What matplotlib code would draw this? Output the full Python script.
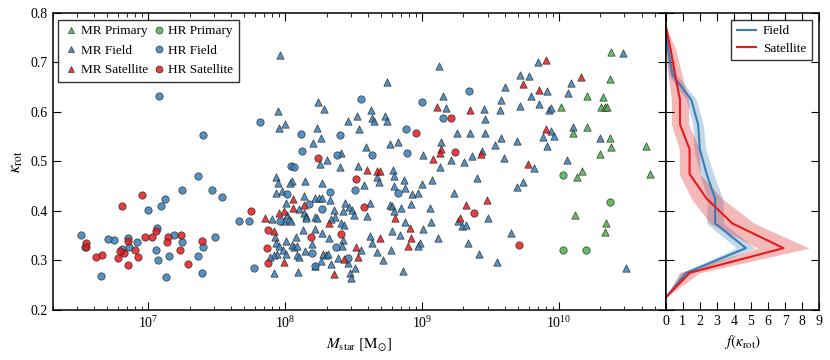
import numpy as np
import matplotlib
matplotlib.use("Agg")
import matplotlib.pyplot as plt
from matplotlib.lines import Line2D

plt.rcParams['font.family'] = ['Liberation Serif', 'DejaVu Serif']
plt.rcParams['mathtext.fontset'] = 'stix'

# ---------------- data (log10 M_star, kappa_rot) ----------------
mr_primary_logm = [10.377, 10.370, 10.200, 10.319, 10.015, 10.306, 10.338, 10.353, 10.200, 10.102,
                   10.370, 10.382, 10.302, 10.165, 10.131, 10.117, 10.340, 10.338, 10.637, 10.666]
mr_primary_k = [0.722, 0.667, 0.632, 0.630, 0.611, 0.610, 0.611, 0.610, 0.569, 0.557,
                0.548, 0.529, 0.515, 0.481, 0.468, 0.391, 0.375, 0.358, 0.531, 0.475]

hr_primary_logm = [10.029, 10.370, 10.025, 10.197]
hr_primary_k = [0.473, 0.418, 0.321, 0.322]

mr_field_logm = [7.962, 8.746, 9.123, 8.239, 8.285, 7.945, 7.996, 7.952, 8.625, 8.523,
                 8.460, 8.630, 8.649, 8.730, 8.744, 8.540, 8.234, 8.258, 8.203, 8.766,
                 8.822, 8.589, 8.407, 9.007, 8.305, 8.251, 8.397, 8.528, 8.783, 8.666,
                 8.795, 7.928, 7.945, 8.052, 8.037, 8.141, 8.686, 8.870, 8.267, 9.072,
                 8.997, 8.574, 8.795, 7.977, 7.928, 8.875, 8.926, 8.972, 8.134, 8.219,
                 8.243, 8.268, 8.329, 8.003, 8.438, 8.462, 8.487, 8.620, 8.764, 8.778,
                 8.846, 8.917, 8.797, 9.060, 8.098, 8.139, 8.152, 8.353, 8.418, 8.499,
                 8.360, 8.219, 8.232, 8.154, 8.336, 8.407, 8.596, 7.904, 8.013, 8.025,
                 7.988, 8.039, 8.875, 9.065, 8.431, 9.004, 8.132, 8.217, 8.266, 8.076,
                 7.922, 7.930, 7.955, 8.003, 8.052, 8.066, 8.083, 8.198, 8.319, 8.423,
                 8.416, 8.778, 8.834, 8.615, 8.987, 8.972, 8.633, 8.773, 7.984, 8.003,
                 7.942, 7.918, 7.889, 8.144, 8.083, 8.101, 8.278, 8.294, 8.314, 8.387,
                 8.553, 8.666, 8.715, 8.258, 8.331, 8.460, 8.219, 8.511, 7.918, 8.095,
                 8.472, 8.477, 8.863,
                 10.466, 9.843, 9.714, 9.781, 10.085, 9.606, 9.910, 10.063, 9.155, 9.796,
                 9.573, 9.172, 9.453, 9.568, 9.714, 9.850, 9.927, 9.940, 9.456, 9.254,
                 9.349, 9.458, 9.940, 10.098, 9.961, 9.883, 9.573, 9.690, 10.297, 9.531,
                 9.908, 9.138, 9.366, 9.439, 9.595, 10.054, 9.130, 9.211, 9.303, 9.816,
                 9.402, 9.690, 9.738, 9.233, 9.480, 9.262, 9.289, 9.320, 9.650, 9.114,
                 9.332, 9.413, 9.546, 10.488]
mr_field_k = [0.715, 0.661, 0.693, 0.620, 0.606, 0.603, 0.576, 0.567, 0.604, 0.592,
              0.582, 0.587, 0.582, 0.592, 0.582, 0.565, 0.568, 0.548, 0.537, 0.535,
              0.540, 0.529, 0.518, 0.513, 0.503, 0.495, 0.488, 0.491, 0.483, 0.469,
              0.471, 0.468, 0.457, 0.461, 0.457, 0.461, 0.458, 0.463, 0.456, 0.463,
              0.455, 0.453, 0.451, 0.441, 0.436, 0.446, 0.435, 0.437, 0.430, 0.427,
              0.427, 0.427, 0.422, 0.417, 0.417, 0.409, 0.403, 0.416, 0.412, 0.410,
              0.407, 0.414, 0.399, 0.407, 0.405, 0.395, 0.390, 0.402, 0.399, 0.392,
              0.388, 0.388, 0.385, 0.385, 0.383, 0.376, 0.390, 0.383, 0.392, 0.383,
              0.380, 0.380, 0.377, 0.378, 0.372, 0.363, 0.361, 0.363, 0.356, 0.347,
              0.347, 0.336, 0.329, 0.339, 0.331, 0.327, 0.329, 0.334, 0.345, 0.341,
              0.329, 0.359, 0.352, 0.349, 0.336, 0.329, 0.336, 0.321, 0.321, 0.313,
              0.314, 0.311, 0.308, 0.319, 0.311, 0.307, 0.314, 0.311, 0.314, 0.305,
              0.321, 0.317, 0.301, 0.298, 0.292, 0.294, 0.289, 0.285, 0.275, 0.277,
              0.275, 0.265, 0.278,
              0.719, 0.702, 0.675, 0.673, 0.659, 0.650, 0.642, 0.638, 0.632, 0.632,
              0.624, 0.609, 0.607, 0.605, 0.613, 0.616, 0.604, 0.609, 0.586, 0.558,
              0.558, 0.557, 0.562, 0.570, 0.552, 0.549, 0.547, 0.542, 0.548, 0.533,
              0.531, 0.540, 0.511, 0.521, 0.508, 0.504, 0.489, 0.504, 0.498, 0.486,
              0.467, 0.449, 0.458, 0.436, 0.385, 0.379, 0.370, 0.372, 0.356, 0.345,
              0.336, 0.313, 0.296, 0.284]

mr_sat_logm = [9.109, 9.082, 8.596, 8.671, 8.688, 8.057, 8.134, 8.057, 7.993, 7.952,
               8.802, 8.316, 8.912, 7.848, 7.918, 8.693, 8.919, 8.895, 8.516, 8.528,
               8.429, 7.991, 8.353, 9.905, 9.738, 10.158, 9.852, 9.351, 9.905, 9.136,
               9.130, 9.427, 9.774, 9.318, 9.475, 9.276]
mr_sat_k = [0.610, 0.506, 0.483, 0.480, 0.481, 0.424, 0.412, 0.407, 0.401, 0.395,
            0.385, 0.375, 0.366, 0.385, 0.359, 0.346, 0.346, 0.329, 0.328, 0.308,
            0.304, 0.297, 0.272, 0.706, 0.657, 0.671, 0.644, 0.604, 0.565, 0.525,
            0.517, 0.515, 0.495, 0.412, 0.422, 0.385]

hr_field_logm = [7.077, 7.401, 7.362, 7.245, 7.464, 7.539, 7.124, 7.090, 6.997, 7.663,
                 7.733, 7.063, 7.187, 7.485, 7.243, 7.401, 6.849, 6.915, 6.747, 6.703,
                 6.859, 6.805, 6.509, 6.536, 7.053, 7.362, 7.153, 7.073, 7.773, 7.391,
                 7.126, 6.652, 7.813, 8.553, 9.001, 8.115, 8.399, 8.880, 8.122, 8.380,
                 8.630, 8.892, 8.042, 8.061, 8.324, 8.511, 8.824, 8.013, 8.171, 8.268,
                 7.959, 8.367, 8.192, 8.217, 8.460, 9.340, 9.155]
hr_field_k = [0.633, 0.554, 0.471, 0.443, 0.443, 0.428, 0.424, 0.410, 0.403, 0.380,
              0.380, 0.366, 0.351, 0.347, 0.337, 0.327, 0.346, 0.337, 0.341, 0.343,
              0.327, 0.324, 0.351, 0.327, 0.321, 0.310, 0.309, 0.302, 0.285, 0.275,
              0.267, 0.269, 0.580, 0.626, 0.621, 0.556, 0.554, 0.566, 0.521, 0.513,
              0.513, 0.517, 0.490, 0.488, 0.439, 0.442, 0.436, 0.434, 0.414, 0.405,
              0.380, 0.327, 0.316, 0.288, 0.305, 0.643, 0.587]

hr_sat_logm = [6.956, 6.805, 7.751, 7.055, 7.238, 6.973, 7.024, 7.146, 7.133, 7.391,
               6.849, 6.543, 6.545, 6.900, 6.822, 6.789, 6.778, 6.920, 7.233, 6.618,
               6.662, 6.851, 7.292, 8.241, 8.953, 8.513, 8.571, 7.873, 8.404, 8.187,
               7.869, 7.871, 9.208, 9.242, 9.380, 9.708]
hr_sat_k = [0.432, 0.410, 0.399, 0.360, 0.352, 0.348, 0.348, 0.348, 0.338, 0.340,
            0.340, 0.336, 0.328, 0.321, 0.315, 0.319, 0.305, 0.307, 0.321, 0.307,
            0.311, 0.290, 0.292, 0.508, 0.558, 0.464, 0.409, 0.361, 0.354, 0.348,
            0.326, 0.294, 0.587, 0.519, 0.395, 0.331]

# distribution panel
kappa_bins = [0.225, 0.275, 0.325, 0.375, 0.425, 0.475, 0.525, 0.575, 0.625, 0.675, 0.725, 0.775]
f_field = [0.0, 1.2, 4.7, 2.9, 2.9, 2.4, 2.0, 1.9, 1.5, 0.4, 0.15, 0.0]
f_field_err = [0.0, 0.3, 0.55, 0.5, 0.45, 0.4, 0.35, 0.3, 0.3, 0.25, 0.15, 0.0]
f_sat = [0.0, 1.4, 6.9, 3.9, 2.4, 1.4, 1.4, 0.84, 0.84, 0.55, 0.3, 0.0]
f_sat_err = [0.0, 0.6, 1.5, 1.3, 0.9, 0.6, 0.6, 0.5, 0.5, 0.4, 0.3, 0.0]

# ---------------- styling ----------------
c_red = '#e41a1c'
c_blue = '#377eb8'
c_green = '#4daf4a'

fig = plt.figure(figsize=(8.3, 3.6), dpi=100)
ax = fig.add_axes([0.0636, 0.1389, 0.7384, 0.825])
ax2 = fig.add_axes([0.802, 0.1389, 0.1851, 0.825])

kw = dict(s=28, edgecolors='#222222', linewidths=0.5, alpha=0.85, zorder=3)
ax.scatter(10 ** np.array(mr_field_logm), mr_field_k, marker='^', c=c_blue, label='MR Field', **kw)
ax.scatter(10 ** np.array(hr_field_logm), hr_field_k, marker='o', c=c_blue, label='HR Field', **kw)
ax.scatter(10 ** np.array(mr_sat_logm), mr_sat_k, marker='^', c=c_red, label='MR Satellite', **kw)
ax.scatter(10 ** np.array(hr_sat_logm), hr_sat_k, marker='o', c=c_red, label='HR Satellite', **kw)
ax.scatter(10 ** np.array(mr_primary_logm), mr_primary_k, marker='^', c=c_green, label='MR Primary', **kw)
ax.scatter(10 ** np.array(hr_primary_logm), hr_primary_k, marker='o', c=c_green, label='HR Primary', **kw)

ax.set_xscale('log')
ax.set_xlim(2e6, 6e10)
ax.set_ylim(0.2, 0.8)
ax.set_yticks([0.2, 0.3, 0.4, 0.5, 0.6, 0.7, 0.8])
ax.set_xlabel(r'$M_{\rm star}\ [{\rm M}_{\odot}]$', fontsize=11)
ax.set_ylabel(r'$\kappa_{\rm rot}$', fontsize=12)

def mk(marker, color):
    return Line2D([], [], ls='none', marker=marker, markersize=5, markerfacecolor=color,
                  markeredgecolor='#222222', markeredgewidth=0.5, alpha=0.85)

handles = [mk('^', c_green), mk('^', c_blue), mk('^', c_red),
           mk('o', c_green), mk('o', c_blue), mk('o', c_red)]
labels = ['MR Primary', 'MR Field', 'MR Satellite', 'HR Primary', 'HR Field', 'HR Satellite']
leg = ax.legend(handles, labels, loc='upper left', ncol=2, fontsize=9.5, frameon=True,
                fancybox=False, edgecolor='black', handletextpad=0.1, columnspacing=0.25,
                handlelength=1.2, borderpad=0.4, labelspacing=0.55, borderaxespad=0,
                bbox_to_anchor=(0.009, 0.977))
leg.get_frame().set_linewidth(1.0)

# distribution panel
kb = np.array(kappa_bins)
ff = np.array(f_field); fe = np.array(f_field_err)
fs = np.array(f_sat); se = np.array(f_sat_err)
ax2.fill_betweenx(kb, ff - fe, ff + fe, color=c_blue, alpha=0.3, lw=0)
ax2.fill_betweenx(kb, fs - se, fs + se, color=c_red, alpha=0.3, lw=0)
ax2.plot(ff, kb, color=c_blue, lw=1.5, label='Field')
ax2.plot(fs, kb, color=c_red, lw=1.5, label='Satellite')
ax2.set_xlim(0, 9)
ax2.set_ylim(0.2, 0.8)
ax2.set_xticks(range(10))
ax2.set_yticks([0.2, 0.3, 0.4, 0.5, 0.6, 0.7, 0.8])
ax2.set_yticklabels([])
ax2.set_xlabel(r'$f(\kappa_{\rm rot})$', fontsize=11)
leg2 = ax2.legend(loc='upper right', fontsize=9.5, fancybox=False, edgecolor='black',
                  handlelength=1.5, borderpad=0.4, labelspacing=0.4, handletextpad=0.5,
                  borderaxespad=0, bbox_to_anchor=(0.95, 0.977))
leg2.get_frame().set_linewidth(1.0)

for a in (ax, ax2):
    a.tick_params(which='both', direction='in', top=True, right=True, labelsize=10)
    a.tick_params(which='major', length=6, width=0.8)
    a.tick_params(which='minor', length=3, width=0.6)
    for sp in a.spines.values():
        sp.set_linewidth(1.1)
ax2.tick_params(axis='x', which='minor', bottom=False, top=False)

fig.savefig('out.png', dpi=100)
